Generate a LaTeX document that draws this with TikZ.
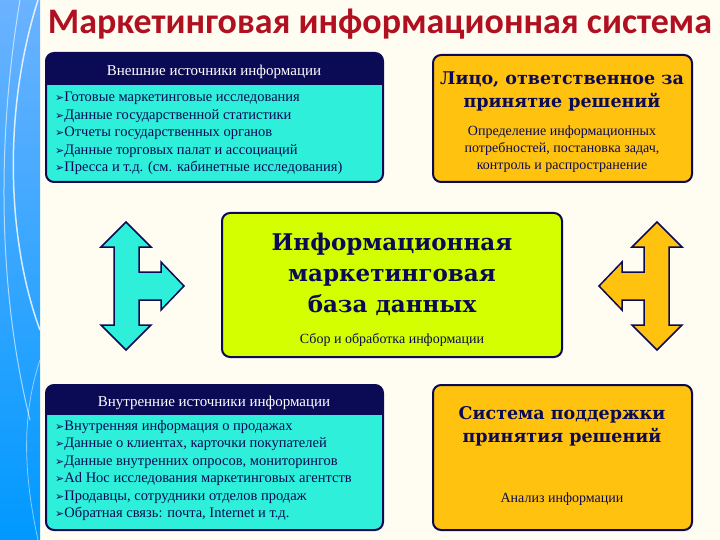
\documentclass[tikz,border=0pt]{standalone}
\usepackage{fontspec}
\setmainfont{Liberation Serif}
\newfontfamily\titlefont{Carlito}
\newfontfamily\heavy{DejaVu Serif}
\newfontfamily\bulfont{DejaVu Sans}
\definecolor{navy}{HTML}{0A0A55}
\definecolor{cyanbox}{HTML}{2EF0DA}
\definecolor{goldbox}{HTML}{FFC20E}
\definecolor{limebox}{HTML}{D4FF00}
\definecolor{cream}{HTML}{FFFDF2}
\definecolor{titlered}{HTML}{B01020}
\newcommand{\bl}{{\bulfont\fontsize{11}{11}\selectfont ➢}}
\begin{document}
\begin{tikzpicture}[x=1pt,y=-1pt,
  boxst/.style={draw=navy,line width=2pt,rounded corners=8pt},
  bodytxt/.style={font=\fontsize{14.5}{17.5}\selectfont,text=navy,align=left,anchor=north west,inner sep=0pt},
  ctxt/.style={font=\fontsize{14}{17}\selectfont,text=navy,align=center,inner sep=0pt},
  btitle/.style={font=\heavy\bfseries\fontsize{17.5}{23}\selectfont,text=navy,align=center,inner sep=0pt},
  hdr/.style={font=\fontsize{15}{15}\selectfont,text=white,inner sep=0pt},
  arr/.style={draw=navy,line width=1.5pt,line join=miter}]
\useasboundingbox (0,0) rectangle (720,540);
\fill[cream] (0,0) rectangle (720,540);
% left strip
\shade[top color=white!60!cyan!70!blue,bottom color=cyan!60!blue] (0,0) rectangle (40,540);
\draw[white,line width=1.5pt,opacity=.8] (38,0) .. controls (0,120) and (10,250) .. (40,330);
\draw[white,line width=1pt,opacity=.6] (20,0) .. controls (-5,150) and (0,300) .. (30,420);
\draw[white,line width=.8pt,opacity=.5] (40,360) .. controls (20,420) and (25,480) .. (38,540);
% title
\node[font=\titlefont\bfseries,text=titlered,inner sep=0pt] (title) at (380,24) {\resizebox{664pt}{!}{Маркетинговая информационная система}};
% top-left
\draw[boxst,fill=cyanbox] (46,53) rectangle (383,182);
\begin{scope}
\clip[rounded corners=8pt] (46,53) rectangle (383,182);
\fill[navy] (46,53) rectangle (383,85);
\end{scope}
\node[hdr] (h1) at (214,72) {Внешние источники информации};
\node[bodytxt] (t1) at (55,92) {\bl Готовые маркетинговые исследования\\\bl Данные государственной статистики\\\bl Отчеты государственных органов\\\bl Данные торговых палат и ассоциаций\\\bl Пресса и т.д. (см. кабинетные исследования)};
% bottom-left
\draw[boxst,fill=cyanbox] (46,385) rectangle (383,530);
\begin{scope}
\clip[rounded corners=8pt] (46,385) rectangle (383,530);
\fill[navy] (46,385) rectangle (383,415);
\end{scope}
\node[hdr] (h2) at (214,403) {Внутренние источники информации};
\node[bodytxt] (t2) at (55,420) {\bl Внутренняя информация о продажах\\\bl Данные о клиентах, карточки покупателей\\\bl Данные внутренних опросов, мониторингов\\\bl Ad Hoc исследования маркетинговых агентств\\\bl Продавцы, сотрудники отделов продаж\\\bl Обратная связь: почта, Internet и т.д.};
% top-right
\draw[boxst,fill=goldbox] (433,55) rectangle (692,182);
\node[btitle] (tr) at (562,91) {Лицо, ответственное за\\принятие решений};
\node[ctxt] (trt) at (562,149) {Определение информационных\\потребностей, постановка задач,\\контроль и распространение};
% bottom-right
\draw[boxst,fill=goldbox] (433,385) rectangle (692,530);
\node[btitle] (br) at (562,426) {Система поддержки\\принятия решений};
\node[ctxt] (brt) at (562,499) {Анализ информации};
% center
\draw[boxst,fill=limebox] (222,213) rectangle (562,357);
\node[btitle,font=\heavy\bfseries\fontsize{23}{31}\selectfont] (ct) at (392,274) {Информационная\\маркетинговая\\база данных};
\node[ctxt] (cs) at (392,340) {Сбор и обработка информации};
% left arrow
\draw[arr,fill=cyanbox] (126,222) -- (151,247) -- (139,247) -- (139,272) -- (161,272) -- (161,262) -- (184,286) -- (161,310) -- (161,300) -- (139,300) -- (139,325) -- (151,325) -- (126,350) -- (101,325) -- (114,325) -- (114,247) -- (101,247) -- cycle;
% right arrow (mirrored)
\begin{scope}[xshift=720pt,x=-1pt]
\draw[arr,fill=goldbox] (63,222) -- (88,247) -- (76,247) -- (76,272) -- (98,272) -- (98,262) -- (121,286) -- (98,310) -- (98,300) -- (76,300) -- (76,325) -- (88,325) -- (63,350) -- (38,325) -- (51,325) -- (51,247) -- (38,247) -- cycle;
\end{scope}
\end{tikzpicture}
\end{document}
